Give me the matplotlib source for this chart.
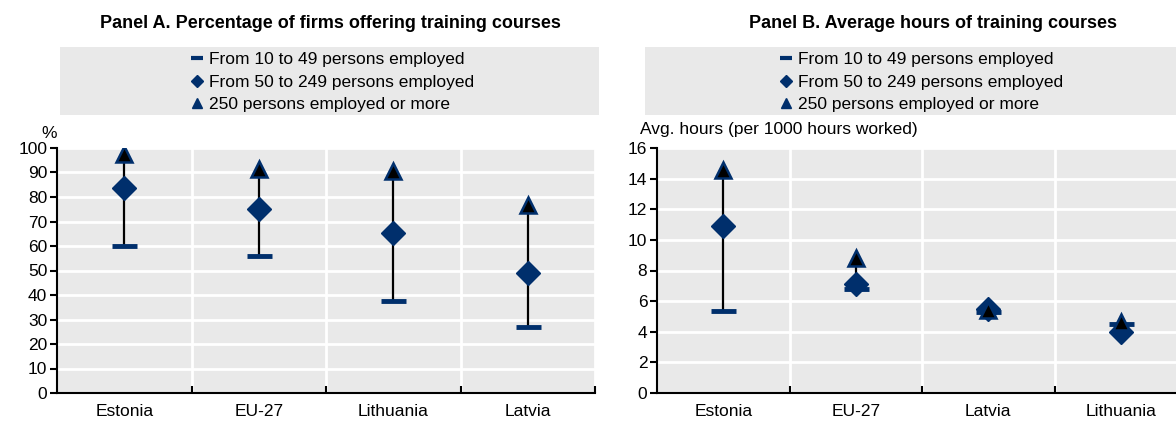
import matplotlib.pyplot as plt
from matplotlib.lines import Line2D
from matplotlib.patches import Rectangle

plt.rcParams['font.family'] = ['Liberation Sans', 'DejaVu Sans']

NAVY = '#002F6C'
GRAY = '#E9E9E9'

# Panel A: percentage of firms offering training courses
countries_a = ['Estonia', 'EU-27', 'Lithuania', 'Latvia']
small_a = [60, 56, 37.6, 26.8]
medium_a = [83.5, 75.3, 65.4, 48.9]
large_a = [97.5, 91.5, 90.8, 76.6]

# Panel B: average hours of training courses
countries_b = ['Estonia', 'EU-27', 'Latvia', 'Lithuania']
small_b = [5.35, 6.8, 5.3, 4.5]
medium_b = [10.9, 7.1, 5.5, 4.0]
large_b = [14.55, 8.8, 5.4, 4.65]

legend_labels = ['From 10 to 49 persons employed',
                 'From 50 to 249 persons employed',
                 '250 persons employed or more']

W, H = 1176, 421
fig = plt.figure(figsize=(W / 100, H / 100), dpi=100)


def fx(px):
    return px / W


def fy(py):
    return 1 - py / H


def draw_panel(rect, countries, small, medium, large, ymax, ystep):
    ax = fig.add_axes(rect)
    ax.set_facecolor(GRAY)
    x = list(range(len(countries)))
    ax.vlines(x, small, large, color='black', lw=1.6, zorder=3)
    ax.plot(x, small, ls='none', marker='_', ms=18, mew=3.5, color=NAVY, zorder=4)
    ax.plot(x, medium, ls='none', marker='D', ms=12, color=NAVY, zorder=5)
    ax.plot(x, large, ls='none', marker='^', ms=11, mfc='black', mec=NAVY, mew=1.8, zorder=6)
    ax.set_xlim(-0.5, len(countries) - 0.5)
    ax.set_ylim(0, ymax)
    ax.set_yticks(range(0, ymax + 1, ystep))
    ax.set_xticks(x)
    ax.set_xticklabels(countries)
    ax.set_xticks([i + 0.5 for i in x], minor=True)
    ax.grid(axis='y', which='major', color='white', lw=2)
    ax.grid(axis='x', which='minor', color='white', lw=2)
    ax.set_axisbelow(True)
    for s in ['top', 'right']:
        ax.spines[s].set_visible(False)
    for s in ['left', 'bottom']:
        ax.spines[s].set_linewidth(1.5)
    ax.tick_params(axis='x', which='major', length=0, labelsize=12.5, pad=8)
    ax.tick_params(axis='x', which='minor', direction='in', length=5, width=1.5)
    ax.tick_params(axis='y', direction='out', length=5, width=1.5, labelsize=12.5, pad=2)
    return ax


ax_a = draw_panel([fx(57), fy(393), fx(538), 245 / H],
                  countries_a, small_a, medium_a, large_a, 100, 10)
ax_b = draw_panel([fx(657), fy(393), fx(530), 245 / H],
                  countries_b, small_b, medium_b, large_b, 16, 2)

# titles
fig.text(fx(330), fy(23), 'Panel A. Percentage of firms offering training courses',
         ha='center', va='center', fontsize=13, fontweight='bold')
fig.text(fx(933), fy(23), 'Panel B. Average hours of training courses',
         ha='center', va='center', fontsize=13, fontweight='bold')

# axis unit labels
fig.text(fx(41), fy(133), '%', ha='left', va='center', fontsize=12.5)
fig.text(fx(640), fy(130), 'Avg. hours (per 1000 hours worked)', ha='left', va='center', fontsize=12.5)

# legends on gray bands
handles = [
    Line2D([], [], ls='none', marker='_', ms=8, mew=3, color=NAVY),
    Line2D([], [], ls='none', marker='D', ms=6, color=NAVY),
    Line2D([], [], ls='none', marker='^', ms=7, mfc=NAVY, mec=NAVY),
]
for x0, x1, mx in [(60, 599, 190), (645, 1176, 779)]:
    fig.patches.append(Rectangle((fx(x0), fy(115)), fx(x1 - x0), (115 - 47) / H,
                                 transform=fig.transFigure, facecolor=GRAY,
                                 edgecolor='none', zorder=0))
    fig.legend(handles, legend_labels, loc='upper left',
               bbox_to_anchor=(fx(mx), fy(52)), frameon=False,
               fontsize=12.5, handlelength=0.8, handletextpad=0.3,
               labelspacing=0.43, borderpad=0, borderaxespad=0)

fig.savefig('out.png', dpi=100)
